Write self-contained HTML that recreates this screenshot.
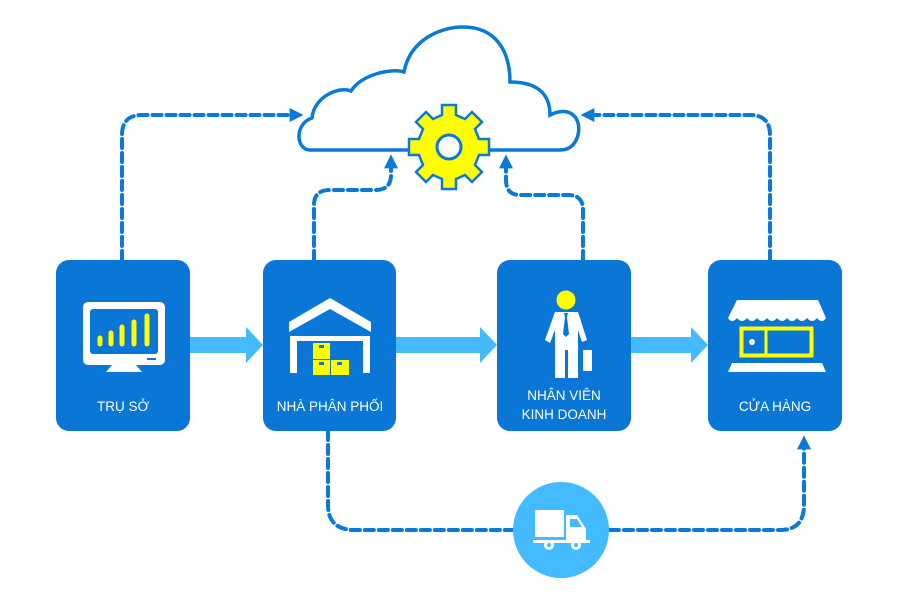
<!DOCTYPE html>
<html><head><meta charset="utf-8"><style>
html,body{margin:0;padding:0;background:#fff;}
svg{display:block}
text{font-family:"Liberation Sans",sans-serif;font-size:13.5px;fill:#fff;text-anchor:middle}
</style></head><body>
<svg width="900" height="600" viewBox="0 0 900 600" xmlns="http://www.w3.org/2000/svg">
<defs>
<marker id="ah" viewBox="0 0 10 10" refX="6" refY="5" markerWidth="3.5" markerHeight="3.5" orient="auto"><path d="M0,0L10,5L0,10z" fill="#0A7AD6"/></marker>
</defs>
<g fill="none" stroke="#0A7AD6" stroke-width="4" stroke-dasharray="9,5" stroke-linecap="round">
<path d="M122,260 V135 Q122,115 142,115 H298" marker-end="url(#ah)"/>
<path d="M770,260 V135 Q770,115 750,115 H586" marker-end="url(#ah)"/>
<path d="M314,260 V205 Q314,190 330,190 H375 Q391,190 391,175 V160" marker-end="url(#ah)"/>
<path d="M583,260 V210 Q583,195 568,195 H520 Q506,195 506,180 V160" marker-end="url(#ah)"/>
<path d="M328,431 V505 Q328,530 355,530 H515"/>
<path d="M610,530 H780 Q804,530 804,505 V441" marker-end="url(#ah)"/>
</g>
<path d="M310,150 C296,150 294,124 312,118 C314,96 340,86 351,91 C362,74 392,68 404,72 C410,40 440,27 463,27 C495,27 510,50 510,82 C535,82 550,92 550,115 C570,105 582,118 578,135 C575,146 568,150 560,150 Z" fill="#fff" stroke="#0A7AD6" stroke-width="3.5"/>
<g transform="translate(449,147)">
<path d="M-7,-42 H7 V-32 L16,-28 L23,-35 L33,-25 L26,-18 L30,-8 H40 V8 H30 L26,18 L33,25 L23,35 L16,28 L7,32 V42 H-7 V32 L-16,28 L-23,35 L-33,25 L-26,18 L-30,8 H-40 V-8 H-30 L-26,-18 L-33,-25 L-23,-35 L-16,-28 L-7,-32 Z" fill="#FFFF00" stroke="#0A7AD6" stroke-width="2.5"/>
<circle r="12" fill="#fff" stroke="#0A7AD6" stroke-width="3"/>
</g>
<g fill="#45BBFF">
<path d="M190,337 H246 V327 L263,345 L246,363 V353 H190Z"/>
<path d="M396,337 H480 V327 L497,345 L480,363 V353 H396Z"/>
<path d="M631,337 H691 V327 L708,345 L691,363 V353 H631Z"/>
</g>
<g fill="#0A77D6">
<rect x="56" y="260" width="134" height="171" rx="13"/>
<rect x="263" y="260" width="133" height="171" rx="13"/>
<rect x="497" y="260" width="134" height="171" rx="13"/>
<rect x="708" y="260" width="134" height="171" rx="13"/>
</g>
<rect x="83" y="302" width="82" height="63" rx="5" fill="#fff"/>
<rect x="90" y="309" width="68" height="45" rx="3" fill="#0A77D6"/>
<path d="M112,365 L106,372 H142 L136,365Z" fill="#fff"/>
<rect x="147" y="358" width="9" height="2" fill="#0A77D6"/>
<g stroke="#FFFF00" stroke-width="5" stroke-linecap="round">
<line x1="100" y1="338" x2="100" y2="344"/>
<line x1="111" y1="333" x2="111" y2="344"/>
<line x1="122" y1="327" x2="122" y2="344"/>
<line x1="134" y1="322" x2="134" y2="344"/>
<line x1="147" y1="316" x2="147" y2="344"/>
</g>
<path d="M289,322 L330,298 L371,322 V332 L330,309 L289,332Z" fill="#fff"/>
<path d="M290,373 V336 H370 V373 H363 V341 H297 V373Z" fill="#fff"/>
<g fill="#FFFF00">
<rect x="313" y="343" width="17" height="16"/>
<rect x="313" y="360" width="17" height="15"/>
<rect x="331" y="360" width="18" height="15"/>
</g>
<g fill="#0A77D6"><rect x="319" y="345" width="5" height="3"/><rect x="319" y="362" width="5" height="3"/><rect x="337" y="362" width="5" height="3"/></g>
<circle cx="566" cy="300" r="9.5" fill="#FFFF00"/>
<path d="M555,312 H578 L587,340 L582,342 L578,330 V378 H568 V350 H565 V378 H555 V330 L550,343 L545,340 Z" fill="#fff"/>
<path d="M564,313 H568 L567,317 L569,334 L566,337 L563,334 L565,317Z" fill="#0A77D6"/>
<rect x="583" y="350" width="9" height="21" rx="1" fill="#fff"/>
<path d="M737,300 H818 L826,318 Q822,324 817,318 Q812,324 807,318 Q802,324 797,318 Q792,324 787,318 Q782,324 777,318 Q772,324 767,318 Q762,324 757,318 Q752,324 747,318 Q742,324 737,318 Q732,324 728,318Z" fill="#fff"/>
<rect x="741.5" y="328.5" width="70" height="27" fill="none" stroke="#FFFF00" stroke-width="4"/>
<line x1="766" y1="328" x2="766" y2="356" stroke="#FFFF00" stroke-width="3"/>
<circle cx="752" cy="342" r="3" fill="#fff"/>
<path d="M732,363 H822 L826,372 H728Z" fill="#fff"/>
<circle cx="561" cy="530" r="48" fill="#45BBFF"/>
<rect x="535" y="510" width="29" height="27" rx="1" fill="#fff"/>
<path d="M566,515 H577 L586,529 V541 H566Z" fill="#fff"/>
<path d="M570,519 H577 L582,527 H570Z" fill="#45BBFF"/>
<rect x="533" y="540" width="57" height="3" fill="#fff"/>
<circle cx="549" cy="545" r="5" fill="#fff"/><circle cx="549" cy="545" r="2" fill="#45BBFF"/>
<circle cx="576" cy="545" r="5" fill="#fff"/><circle cx="576" cy="545" r="2" fill="#45BBFF"/>
<text x="123" y="411">TRỤ SỞ</text>
<text x="330" y="411">NHÀ PHÂN PHỐI</text>
<text x="564" y="400">NHÂN VIÊN</text>
<text x="564" y="419">KINH DOANH</text>
<text x="775" y="411">CỬA HÀNG</text>
</svg>
</body></html>
